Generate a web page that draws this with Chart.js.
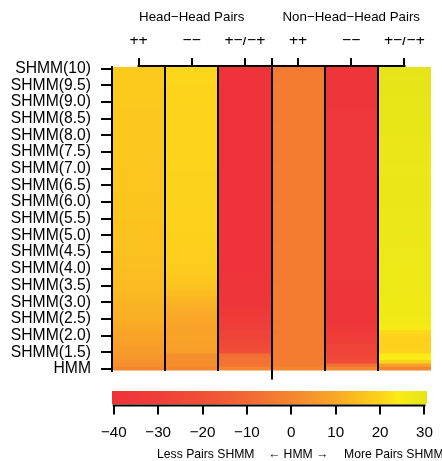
<!DOCTYPE html>
<html>
<head>
<meta charset="utf-8">
<script src="https://cdn.jsdelivr.net/npm/chart.js@4.4.1/dist/chart.umd.min.js"></script>
<style>
  html, body { margin: 0; padding: 0; background: #fff; overflow: hidden; }
  #wrap { position: relative; width: 442px; height: 461px; }
  #heat { position: absolute; left: 0; top: 0; }
  #scale { position: absolute; left: 0; top: 384px; }
  .cap { position: absolute; top: 447px; font: 12.2px "Liberation Sans", Arial, sans-serif; color: #000; white-space: nowrap; }
</style>
</head>
<body>
<div id="wrap">
  <canvas id="heat" width="442" height="390"></canvas>
  <canvas id="scale" width="442" height="77"></canvas>
  <span class="cap" style="left:157px">Less Pairs SHMM</span>
  <span class="cap" style="left:268px">&larr; HMM &rarr;</span>
  <span class="cap" style="left:344px">More Pairs SHMM</span>
</div>
<script>
// ---- данные ----
const groupLabels = ['Head\u2212Head Pairs', 'Non\u2212Head\u2212Head Pairs'];
const groupCenters = [1, 4];
const colLabels = ['++', '\u2212\u2212', '+\u2212/\u2212+', '++', '\u2212\u2212', '+\u2212/\u2212+'];

// уровни SHMM, снизу (HMM = 1.0) вверх
const levels = [
  1.0, 1.1, 1.2, 1.3, 1.4, 1.5, 1.6, 1.7, 1.8, 1.9,
  2.0, 2.1, 2.2, 2.3, 2.4, 2.5, 2.6, 2.7, 2.8, 2.9,
  3.0, 3.1, 3.2, 3.3, 3.4, 3.5, 3.6, 3.7, 3.8, 3.9,
  4.0, 4.1, 4.2, 4.3, 4.4, 4.5, 4.6, 4.7, 4.8, 4.9,
  5.0, 5.1, 5.2, 5.3, 5.4, 5.5, 5.6, 5.7, 5.8, 5.9,
  6.0, 6.1, 6.2, 6.3, 6.4, 6.5, 6.6, 6.7, 6.8, 6.9,
  7.0, 7.1, 7.2, 7.3, 7.4, 7.5, 7.6, 7.7, 7.8, 7.9,
  8.0, 8.1, 8.2, 8.3, 8.4, 8.5, 8.6, 8.7, 8.8, 8.9,
  9.0, 9.1, 9.2, 9.3, 9.4, 9.5, 9.6, 9.7, 9.8, 9.9,
  10.0
];

const yTickValues = [1, 1.5, 2, 2.5, 3, 3.5, 4, 4.5, 5, 5.5, 6, 6.5, 7, 7.5, 8, 8.5, 9, 9.5, 10];
const yTickLabels = ['HMM', 'SHMM(1.5)', 'SHMM(2.0)', 'SHMM(2.5)', 'SHMM(3.0)', 'SHMM(3.5)',
  'SHMM(4.0)', 'SHMM(4.5)', 'SHMM(5.0)', 'SHMM(5.5)', 'SHMM(6.0)', 'SHMM(6.5)', 'SHMM(7.0)',
  'SHMM(7.5)', 'SHMM(8.0)', 'SHMM(8.5)', 'SHMM(9.0)', 'SHMM(9.5)', 'SHMM(10)'];

// Head-Head ++
const hhPlusPlus = [
  0, 2.5, 3.5, 4.5, 5.5, 6.3, 6.8, 7.4, 8.0, 8.6,
  9.2, 9.8, 10.4, 10.9, 11.3, 11.7, 12.0, 12.3, 12.6, 12.9,
  13.2, 13.5, 13.8, 14.0, 14.3, 14.5, 14.7, 14.9, 15.1, 15.2,
  15.4, 15.5, 15.6, 15.7, 15.8, 15.9, 16.0, 16.0, 16.1, 16.2,
  16.2, 16.3, 16.3, 16.4, 16.4, 16.5, 16.5, 16.6, 16.6, 16.7,
  16.7, 16.8, 16.8, 16.9, 16.9, 17.0, 17.0, 17.0, 17.1, 17.1,
  17.1, 17.2, 17.2, 17.2, 17.3, 17.3, 17.3, 17.4, 17.4, 17.4,
  17.4, 17.5, 17.5, 17.5, 17.5, 17.6, 17.6, 17.6, 17.6, 17.7,
  17.7, 17.7, 17.7, 17.8, 17.8, 17.8, 17.8, 17.9, 17.9, 17.9,
  18.0
];
// Head-Head --
const hhMinusMinus = [
  0, 2.0, 2.2, 2.4, 2.5, 7.5, 7.8, 8.0, 8.2, 8.4,
  8.6, 8.8, 9.0, 9.2, 9.5, 9.8, 10.2, 10.7, 11.3, 12.0,
  12.8, 13.6, 14.5, 15.3, 16.0, 16.6, 17.1, 17.5, 17.9, 18.2,
  18.5, 18.7, 18.9, 19.0, 19.1, 19.2, 19.3, 19.4, 19.4, 19.5,
  19.5, 19.6, 19.6, 19.7, 19.7, 19.7, 19.8, 19.8, 19.8, 19.9,
  19.9, 19.9, 20.0, 20.0, 20.0, 20.0, 20.1, 20.1, 20.1, 20.1,
  20.2, 20.2, 20.2, 20.2, 20.3, 20.3, 20.3, 20.3, 20.3, 20.4,
  20.4, 20.4, 20.4, 20.4, 20.5, 20.5, 20.5, 20.5, 20.5, 20.5,
  20.6, 20.6, 20.6, 20.6, 20.6, 20.7, 20.7, 20.7, 20.7, 20.7,
  20.8
];
// Head-Head +-/-+
const hhMixed = [
  0, -6.5, -7.0, -7.5, -8.0, -22.0, -23.0, -24.0, -25.0, -26.0,
  -27.0, -28.0, -29.5, -31.0, -32.0, -33.0, -34.0, -35.0, -35.8, -36.4,
  -37.0, -37.4, -37.7, -38.0, -38.2, -38.4, -38.6, -38.8, -38.9, -39.0,
  -39.1, -39.2, -39.3, -39.3, -39.4, -39.4, -39.5, -39.5, -39.6, -39.6,
  -39.6, -39.7, -39.7, -39.7, -39.8, -39.8, -39.8, -39.8, -39.9, -39.9,
  -39.9, -39.9, -40.0, -40.0, -40.0, -40.0, -40.0, -40.1, -40.1, -40.1,
  -40.1, -40.1, -40.1, -40.2, -40.2, -40.2, -40.2, -40.2, -40.2, -40.2,
  -40.2, -40.3, -40.3, -40.3, -40.3, -40.3, -40.3, -40.3, -40.3, -40.3,
  -40.3, -40.3, -40.4, -40.4, -40.4, -40.4, -40.4, -40.4, -40.4, -40.4,
  -40.4
];
// Non-Head-Head ++
const nhPlusPlus = [
  0, -3.0, -3.2, -3.3, -3.4, -3.4, -3.5, -3.5, -3.5, -3.5,
  -3.5, -3.6, -3.5, -3.5, -3.6, -3.5, -3.5, -3.6, -3.5, -3.5,
  -3.6, -3.5, -3.5, -3.6, -3.5, -3.5, -3.6, -3.5, -3.5, -3.6,
  -3.5, -3.5, -3.6, -3.5, -3.5, -3.6, -3.5, -3.5, -3.6, -3.5,
  -3.5, -3.6, -3.5, -3.5, -3.6, -3.5, -3.5, -3.6, -3.5, -3.5,
  -3.6, -3.5, -3.5, -3.6, -3.5, -3.5, -3.6, -3.5, -3.5, -3.6,
  -3.5, -3.5, -3.6, -3.5, -3.5, -3.6, -3.5, -3.5, -3.6, -3.5,
  -3.5, -3.6, -3.5, -3.5, -3.6, -3.5, -3.5, -3.6, -3.5, -3.5,
  -3.6, -3.5, -3.5, -3.6, -3.5, -3.5, -3.6, -3.5, -3.5, -3.6,
  -3.6
];
// Non-Head-Head --
const nhMinusMinus = [
  0, -8.0, -23.0, -24.0, -25.0, -26.0, -27.0, -28.0, -29.5, -31.0,
  -32.5, -34.0, -35.5, -36.5, -37.2, -37.4, -37.5, -37.6, -37.6, -37.6,
  -37.5, -37.4, -37.3, -37.2, -37.1, -37.0, -36.9, -36.9, -36.8, -36.8,
  -36.7, -36.7, -36.6, -36.6, -36.6, -36.5, -36.5, -36.5, -36.5, -36.4,
  -36.4, -36.4, -36.4, -36.4, -36.3, -36.3, -36.3, -36.3, -36.3, -36.3,
  -36.3, -36.3, -36.3, -36.3, -36.4, -36.4, -36.4, -36.4, -36.4, -36.5,
  -36.5, -36.5, -36.5, -36.6, -36.6, -36.6, -36.7, -36.7, -36.7, -36.8,
  -36.8, -36.8, -36.9, -36.9, -36.9, -37.0, -37.0, -37.0, -37.1, -37.1,
  -37.1, -37.2, -37.2, -37.2, -37.3, -37.3, -37.3, -37.4, -37.4, -37.4,
  -37.5
];
// Non-Head-Head +-/-+
const nhMixed = [
  0, 8.0, 20.5, 24.0, 24.5, 20.5, 20.0, 19.8, 19.5, 19.5,
  21.0, 21.5, 25.0, 25.6, 26.0, 26.3, 26.6, 26.8, 27.0, 27.1,
  27.2, 27.3, 27.4, 27.5, 27.5, 27.6, 27.6, 27.7, 27.7, 27.8,
  27.8, 27.8, 27.9, 27.9, 28.0, 28.0, 28.0, 28.1, 28.1, 28.1,
  28.2, 28.2, 28.2, 28.3, 28.3, 28.3, 28.4, 28.4, 28.4, 28.5,
  28.5, 28.5, 28.6, 28.6, 28.6, 28.7, 28.7, 28.7, 28.8, 28.8,
  28.8, 28.9, 28.9, 28.9, 29.0, 29.0, 29.0, 29.1, 29.1, 29.1,
  29.2, 29.2, 29.3, 29.3, 29.4, 29.4, 29.5, 29.5, 29.6, 29.6,
  29.7, 29.7, 29.8, 29.8, 29.9, 29.9, 30.0, 30.1, 30.2, 30.3,
  30.5
];

const columns = [hhPlusPlus, hhMinusMinus, hhMixed, nhPlusPlus, nhMinusMinus, nhMixed];

// шкала цвета
const cbMin = -40.4, cbMax = 30.6;
const cbTicks = [-40, -30, -20, -10, 0, 10, 20, 30];
const cbTickLabels = ['\u221240', '\u221230', '\u221220', '\u221210', '0', '10', '20', '30'];

const cmapValues = [-40.4, -30, -20, -10, 0, 10, 17, 21, 24, 27, 30.6];
const cmapColors = [
  [238, 51, 58], [239, 62, 57], [240, 80, 55], [242, 104, 52], [244, 134, 47],
  [249, 167, 39], [252, 198, 30], [253, 214, 27], [250, 236, 20], [240, 233, 22], [229, 228, 25]
];

function colorFor(v) {
  if (v <= cmapValues[0]) return 'rgb(' + cmapColors[0].join(',') + ')';
  for (let i = 1; i < cmapValues.length; i++) {
    if (v <= cmapValues[i]) {
      const t = (v - cmapValues[i - 1]) / (cmapValues[i] - cmapValues[i - 1]);
      const a = cmapColors[i - 1], b = cmapColors[i];
      const c = a.map((x, k) => Math.round(x + (b[k] - x) * t));
      return 'rgb(' + c.join(',') + ')';
    }
  }
  return 'rgb(' + cmapColors[cmapColors.length - 1].join(',') + ')';
}

const FONT = '"Liberation Sans", Arial, Helvetica, sans-serif';
Chart.defaults.font.family = FONT;
Chart.defaults.color = '#000';

// линия оси только от первого до последнего тика (как в R)
const rAxisLine = {
  id: 'rAxisLine',
  afterDraw(chart, args, opts) {
    const s = chart.scales[opts.scale];
    if (!s || !s.ticks.length) return;
    const ctx = chart.ctx;
    const x0 = s.getPixelForValue(s.ticks[0].value);
    const x1 = s.getPixelForValue(s.ticks[s.ticks.length - 1].value);
    const y = opts.side === 'top' ? chart.chartArea.top - 1 : chart.chartArea.bottom + 1;
    ctx.save();
    ctx.strokeStyle = '#000';
    ctx.lineWidth = 2;
    ctx.beginPath();
    ctx.moveTo(x0 - 1, y);
    ctx.lineTo(x1 + 1, y);
    ctx.stroke();
    ctx.restore();
  }
};

// ---- тепловая карта ----
const datasets = levels.map((lv, r) => ({
  data: columns.map(() => [lv - 0.05, lv + 0.05]),
  backgroundColor: columns.map(col => colorFor(col[r])),
  borderWidth: 0,
  barPercentage: 1,
  categoryPercentage: 1,
  inflateAmount: 0.5
}));

new Chart(document.getElementById('heat'), {
  type: 'bar',
  data: { labels: colLabels, datasets: datasets },
  options: {
    responsive: false,
    animation: false,
    layout: { padding: { left: 0, right: 11, top: 0, bottom: 0 } },
    plugins: {
      legend: { display: false },
      tooltip: { enabled: false },
      rAxisLine: { scale: 'xTop', side: 'top' }
    },
    scales: {
      x: {
        type: 'category',
        stacked: true,
        offset: true,
        ticks: { display: false },
        border: { display: false },
        grid: {
          offset: true,
          z: 1,
          lineWidth: 2,
          color: c => (c.type === 'tick' ? '#000' : 'rgba(0,0,0,0)'),
          drawTicks: true,
          tickLength: 9,
          tickWidth: 2,
          tickColor: c => (c.type === 'tick' && c.index === 3 ? '#000' : 'rgba(0,0,0,0)')
        },
        afterFit: s => { s.height = 18; }
      },
      xTop: {
        type: 'linear',
        axis: 'x',
        position: 'top',
        weight: 1,
        offset: false,
        min: -0.5,
        max: 5.5,
        afterBuildTicks: s => { s.ticks = [0, 1, 2, 2.5, 3, 4, 5].map(v => ({ value: v })); },
        ticks: {
          autoSkip: false,
          maxRotation: 0,
          padding: 8,
          font: { size: 15.7 },
          callback: v => (Number.isInteger(v) ? colLabels[v] : '')
        },
        grid: { offset: false, drawOnChartArea: false, tickLength: 9, lineWidth: 2, color: '#000' },
        border: { display: false },
        afterFit: s => { s.height = 30; }
      },
      xGroup: {
        type: 'linear',
        axis: 'x',
        position: 'top',
        weight: 2,
        offset: false,
        min: -0.5,
        max: 5.5,
        afterBuildTicks: s => { s.ticks = groupCenters.map(v => ({ value: v })); },
        ticks: {
          autoSkip: false,
          maxRotation: 0,
          padding: 11.5,
          font: { size: 13.3 },
          callback: (v, i) => groupLabels[i]
        },
        grid: { offset: false, display: false, drawTicks: false },
        border: { display: false },
        afterFit: s => { s.height = 37; }
      },
      y: {
        type: 'linear',
        min: 0.95,
        max: 10.05,
        afterBuildTicks: s => { s.ticks = yTickValues.map(v => ({ value: v })); },
        ticks: {
          autoSkip: false,
          padding: 10,
          font: { size: 15.7 },
          callback: (v, i) => yTickLabels[i]
        },
        grid: { drawOnChartArea: false, tickLength: 11, lineWidth: 2, color: '#000' },
        border: { display: true, color: '#000', width: 2, z: 1 },
        afterFit: s => { s.width = 112; }
      }
    }
  },
  plugins: [rAxisLine]
});

// ---- цветовая шкала ----
function cbGradient(c) {
  const chart = c.chart;
  const s = chart.scales.x;
  if (!chart.chartArea || !s) return colorFor(0);
  const g = chart.ctx.createLinearGradient(s.getPixelForValue(cbMin), 0, s.getPixelForValue(cbMax), 0);
  cmapValues.forEach((v, i) => {
    g.addColorStop((v - cbMin) / (cbMax - cbMin), 'rgb(' + cmapColors[i].join(',') + ')');
  });
  return g;
}

new Chart(document.getElementById('scale'), {
  type: 'bar',
  data: {
    labels: [''],
    datasets: [{
      data: [[cbMin, cbMax]],
      backgroundColor: cbGradient,
      borderWidth: 0,
      barPercentage: 1,
      categoryPercentage: 1
    }]
  },
  options: {
    indexAxis: 'y',
    responsive: false,
    animation: false,
    layout: { padding: { left: 112, right: 11, top: 7, bottom: 0 } },
    plugins: {
      legend: { display: false },
      tooltip: { enabled: false },
      rAxisLine: { scale: 'x', side: 'bottom' }
    },
    scales: {
      y: { display: false },
      x: {
        type: 'linear',
        min: cbMin,
        max: cbMax,
        afterBuildTicks: s => { s.ticks = cbTicks.map(v => ({ value: v })); },
        ticks: {
          autoSkip: false,
          maxRotation: 0,
          padding: 9,
          font: { size: 15.2 },
          callback: (v, i) => cbTickLabels[i]
        },
        grid: { drawOnChartArea: false, tickLength: 10, lineWidth: 2, color: '#000' },
        border: { display: false },
        afterFit: s => { s.height = 56.5; }
      }
    }
  },
  plugins: [rAxisLine]
});
</script>
</body>
</html>
